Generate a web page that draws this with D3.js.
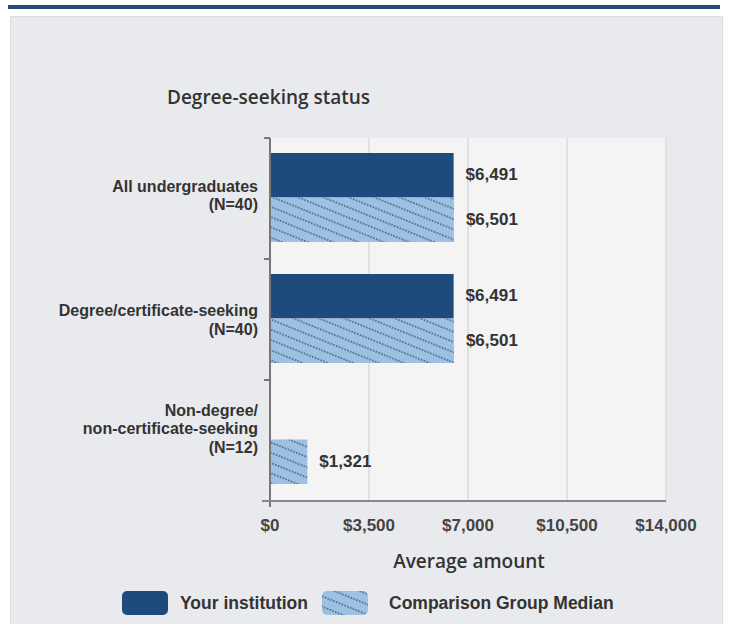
<!DOCTYPE html>
<html><head><meta charset="utf-8">
<script src="https://cdn.jsdelivr.net/npm/d3@7"></script>
<style>body{margin:0;background:#fff;}svg{display:block;}</style>
</head><body>
<svg id="chart" width="730" height="624"></svg>
<script>
const categories = ["All undergraduates\n(N=40)", "Degree/certificate-seeking\n(N=40)", "Non-degree/\nnon-certificate-seeking\n(N=12)"];
const seriesNames = ["Your institution", "Comparison Group Median"];
const yourInstitution = [6491, 6491, null];
const comparisonMedian = [6501, 6501, 1321];
const xTicks = [0, 3500, 7000, 10500, 14000];
const title = "Degree-seeking status";
const xTitle = "Average amount";

const svg = d3.select("#chart");
const m = {left: 270, right: 666, top: 138, bottom: 501};
const dark = "#1e4a7c", light = "#9ec0e2", dotCol = "#4d6e84";
const font = "'Liberation Sans', Arial, sans-serif";
const font2 = "'Open Sans', sans-serif";

// pattern
const defs = svg.append("defs");
const pat = defs.append("pattern").attr("id", "hatch").attr("patternUnits", "userSpaceOnUse")
  .attr("width", 30).attr("height", 9.5).attr("patternTransform", "rotate(22)");
pat.append("rect").attr("width", 30).attr("height", 9.5).attr("fill", light);
pat.append("line").attr("x1", 0).attr("y1", 4.75).attr("x2", 30).attr("y2", 4.75)
  .attr("stroke", dotCol).attr("stroke-width", 1.7).attr("stroke-dasharray", "1.5,1.5");

// top bar & panel
svg.append("rect").attr("x", 8).attr("y", 5).attr("width", 712).attr("height", 4).attr("fill", "#264c7a");
svg.append("rect").attr("x", 10.5).attr("y", 16.5).attr("width", 712).attr("height", 620)
  .attr("fill", "#e9eaed").attr("stroke", "#dcdde0");

svg.append("text").attr("x", 167).attr("y", 104).text(title)
  .attr("font-family", font2).attr("font-size", 19).attr("font-weight", 600).attr("fill", "#333");

const x = d3.scaleLinear().domain([0, 14000]).range([m.left, m.right]);
const y0 = d3.scaleBand().domain(d3.range(categories.length)).range([m.top, m.bottom]);
const y1 = d3.scaleBand().domain(seriesNames).range([15, y0.bandwidth() - 17]);

// plot background
svg.append("rect").attr("x", m.left).attr("y", m.top).attr("width", m.right - m.left).attr("height", m.bottom - m.top)
  .attr("fill", "#f4f4f5");
// gridlines
svg.append("g").selectAll("line").data(xTicks.slice(1)).join("line")
  .attr("x1", d => x(d)).attr("x2", d => x(d)).attr("y1", m.top).attr("y2", m.bottom)
  .attr("stroke", "#dadbde").attr("stroke-width", 1.5);

// bars
const data = categories.map((c, i) => ({i, vals: [yourInstitution[i], comparisonMedian[i]]}));
const g = svg.append("g");
data.forEach(d => {
  d.vals.forEach((v, k) => {
    if (v == null) return;
    const yy = y0(d.i) + y1(seriesNames[k]);
    g.append("rect").attr("x", x(0)).attr("y", yy).attr("width", x(v) - x(0)).attr("height", y1.bandwidth())
      .attr("fill", k === 0 ? dark : "url(#hatch)");
    g.append("text").attr("x", x(v) + 12).attr("y", yy + y1.bandwidth() / 2 + 5)
      .text("$" + d3.format(",")(v)).attr("font-family", font).attr("font-weight", "bold")
      .attr("font-size", 17).attr("fill", "#333");
  });
});

// axes
const yAxis = svg.append("g");
yAxis.append("line").attr("x1", m.left).attr("x2", m.left).attr("y1", m.top).attr("y2", m.bottom + 6)
  .attr("stroke", "#777").attr("stroke-width", 2);
yAxis.selectAll("line.tick").data(d3.range(categories.length)).join("line").attr("class", "tick")
  .attr("x1", m.left - 6).attr("x2", m.left).attr("y1", d => y0(d)).attr("y2", d => y0(d))
  .attr("stroke", "#777").attr("stroke-width", 2);
svg.append("line").attr("x1", m.left - 8).attr("x2", m.right).attr("y1", m.bottom).attr("y2", m.bottom)
  .attr("stroke", "#888").attr("stroke-width", 2);

const offsets = [-3.5, 0, -12.5];
const lh = 18.5;
categories.forEach((c, i) => {
  const lines = c.split("\n");
  const cy = y0(i) + y0.bandwidth() / 2 + offsets[i];
  lines.forEach((ln, j) => {
    svg.append("text").attr("x", 258).attr("y", cy + (j - (lines.length - 1) / 2) * lh + 6)
      .attr("text-anchor", "end").text(ln).attr("font-family", font).attr("font-weight", "bold")
      .attr("font-size", 16).attr("fill", "#333");
  });
});

svg.append("g").selectAll("text").data(xTicks).join("text")
  .attr("x", d => x(d)).attr("y", 531).attr("text-anchor", "middle")
  .text(d => "$" + d3.format(",")(d)).attr("font-family", font).attr("font-weight", "bold")
  .attr("font-size", 17).attr("fill", "#444");

svg.append("text").attr("x", 469).attr("y", 568).attr("text-anchor", "middle").text(xTitle)
  .attr("font-family", font2).attr("font-size", 19).attr("font-weight", 600).attr("fill", "#333");

// legend
const lg = svg.append("g");
const legendX = [122, 322];
seriesNames.forEach((s, k) => {
  lg.append("rect").attr("x", legendX[k]).attr("y", 591).attr("width", 46).attr("height", 24).attr("rx", 5)
    .attr("fill", k === 0 ? dark : "url(#hatch)");
  lg.append("text").attr("x", legendX[k] + (k === 0 ? 58 : 67)).attr("y", 609).text(s)
    .attr("font-family", font).attr("font-weight", "bold").attr("font-size", 17.5).attr("fill", "#333");
});
</script>
</body></html>
